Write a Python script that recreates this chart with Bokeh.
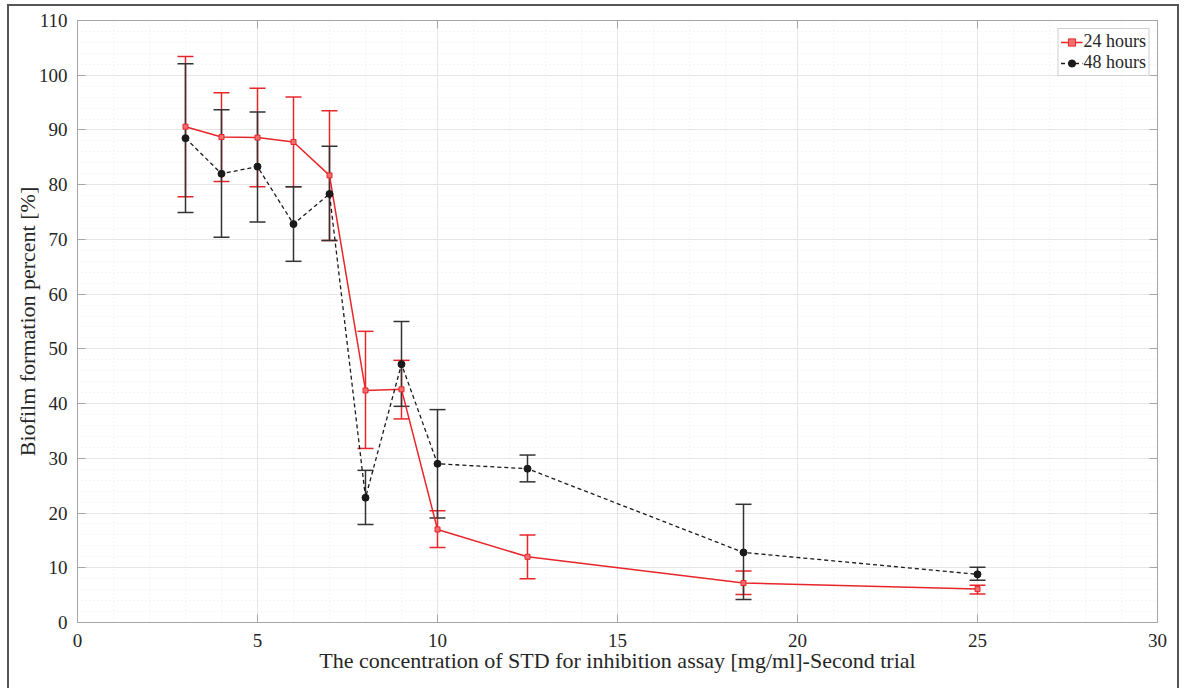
from bokeh.plotting import figure
from bokeh.models import (ColumnDataSource, Whisker, TeeHead, LinearAxis, SingleIntervalTicker,
                          Range1d)
from bokeh.embed import file_html
from bokeh.resources import INLINE

# ---- data ----
conc = [3, 4, 5, 6, 7, 8, 9, 10, 12.5, 18.5, 25]
h24 = [90.6, 88.7, 88.6, 87.8, 81.7, 42.4, 42.6, 17.0, 12.0, 7.2, 6.1]
h24_upper = [103.4, 96.8, 97.6, 96.0, 93.5, 53.2, 47.9, 20.4, 16.0, 9.4, 6.8]
h24_lower = [77.8, 80.6, 79.6, 79.6, 69.8, 31.8, 37.2, 13.7, 8.0, 5.1, 5.2]
h48 = [88.5, 82.0, 83.3, 72.8, 78.3, 22.8, 47.2, 29.0, 28.1, 12.8, 8.8]
h48_upper = [102.1, 93.7, 93.3, 79.6, 87.0, 27.8, 55.0, 38.9, 30.6, 21.6, 10.1]
h48_lower = [74.9, 70.4, 73.2, 66.0, 69.8, 17.9, 39.5, 19.1, 25.7, 4.2, 7.7]

x_ticks = [0, 5, 10, 15, 20, 25, 30]
y_ticks = [0, 10, 20, 30, 40, 50, 60, 70, 80, 90, 100, 110]

RED = "#e8262a"
BLACK = "#1a1a1a"
FONT = "Liberation Serif"
AXC = "#a6a6a6"
TXT = "#262626"

src24 = ColumnDataSource(dict(x=conc, y=h24, up=h24_upper, lo=h24_lower))
src48 = ColumnDataSource(dict(x=conc, y=h48, up=h48_upper, lo=h48_lower))

frame_css = ("linear-gradient(#555,#555) 7px 4px / 2px 100% no-repeat, "
             "linear-gradient(#555,#555) 7px 4px / 1172px 2px no-repeat, "
             "linear-gradient(#555,#555) 1177px 4px / 2px 100% no-repeat, white")

p = figure(width=1184, height=688, output_backend="svg", toolbar_location=None,
           x_range=Range1d(0, 30), y_range=Range1d(0, 110),
           min_border_left=77, min_border_right=27, min_border_top=20, min_border_bottom=66,
           x_axis_label="The concentration of STD for inhibition assay [mg/ml]-Second trial",
           y_axis_label="Biofilm formation percent [%]",
           styles={"background": frame_css})
p.background_fill_color = "white"
p.border_fill_color = None
p.outline_line_color = AXC

p.xaxis.ticker = SingleIntervalTicker(interval=5, num_minor_ticks=5)
p.yaxis.ticker = SingleIntervalTicker(interval=10, num_minor_ticks=5)

for ax in (p.xaxis[0], p.yaxis[0]):
    ax.axis_line_color = AXC
    ax.major_tick_line_color = AXC
    ax.major_tick_in = 8
    ax.major_tick_out = 0
    ax.minor_tick_line_color = None
    ax.major_label_text_font = FONT
    ax.major_label_text_font_size = "19px"
    ax.major_label_text_color = TXT
    ax.axis_label_text_font = FONT
    ax.axis_label_text_font_size = "22px"
    ax.axis_label_text_font_style = "normal"
    ax.axis_label_text_color = TXT
p.xaxis.major_label_standoff = 7
p.xaxis.axis_label_standoff = -2
p.yaxis.major_label_standoff = 6
p.yaxis.axis_label_standoff = -4

# box axes (top / right) with inward ticks, no labels
top = LinearAxis(ticker=SingleIntervalTicker(interval=5, num_minor_ticks=5))
right = LinearAxis(ticker=SingleIntervalTicker(interval=10, num_minor_ticks=5))
for ax in (top, right):
    ax.axis_line_color = AXC
    ax.major_tick_line_color = AXC
    ax.major_tick_in = 8
    ax.major_tick_out = 0
    ax.minor_tick_line_color = None
    ax.major_label_text_font_size = "1px"
    ax.major_label_text_color = None
    ax.major_label_standoff = 0
p.add_layout(top, "above")
p.add_layout(right, "right")

p.xgrid.grid_line_color = "#e6e6e6"
p.ygrid.grid_line_color = "#e6e6e6"
p.xgrid.minor_grid_line_color = "#ededed"
p.ygrid.minor_grid_line_color = "#ededed"
p.xgrid.minor_grid_line_dash = "1 3"
p.ygrid.minor_grid_line_dash = "1 3"

# error bars
w24 = Whisker(source=src24, base="x", upper="up", lower="lo", line_color=RED, line_width=1.5,
              upper_head=TeeHead(size=16, line_color=RED, line_width=1.5),
              lower_head=TeeHead(size=16, line_color=RED, line_width=1.5))
w48 = Whisker(source=src48, base="x", upper="up", lower="lo", line_color="#333333", line_width=1.5,
              upper_head=TeeHead(size=16, line_color="#333333", line_width=1.5),
              lower_head=TeeHead(size=16, line_color="#333333", line_width=1.5))
p.add_layout(w24)
p.add_layout(w48)

# series
p.line("x", "y", source=src24, line_color=RED, line_width=1.5, legend_label="24 hours")
p.scatter("x", "y", source=src24, marker="square", size=5, line_color=RED,
          fill_color="#f07070", legend_label="24 hours")
p.line("x", "y", source=src48, line_color=BLACK, line_width=1.3, line_dash="4 3",
       legend_label="48 hours")
p.scatter("x", "y", source=src48, marker="circle", size=7, line_color=BLACK,
          fill_color=BLACK, legend_label="48 hours")

p.legend.location = "top_right"
p.legend.margin = 8
p.legend.padding = 2
p.legend.spacing = 0
p.legend.border_line_color = "#a0a0a0"
p.legend.background_fill_color = "white"
p.legend.background_fill_alpha = 1
p.legend.label_text_font = FONT
p.legend.label_text_font_size = "18px"
p.legend.label_text_color = TXT
p.legend.glyph_width = 22
p.legend.glyph_height = 18
p.legend.label_standoff = 1
p.legend.label_height = 18

open("out.html", "w").write(file_html(p, INLINE))
